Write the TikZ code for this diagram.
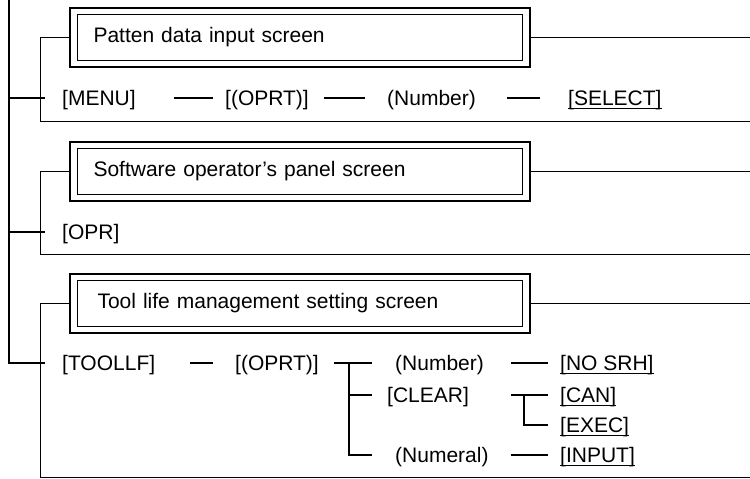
\documentclass[tikz,border=0pt]{standalone}
\usepackage{fontspec}
\setmainfont{Liberation Sans}
\usetikzlibrary{positioning}
\newcommand{\keyul}[1]{\setbox0\hbox{#1}\rlap{\rule[-3.5pt]{\wd0}{1.1pt}}\box0}

\begin{document}
\begin{tikzpicture}[x=1pt, y=-1pt,
        txt/.style={anchor=west, inner sep=0pt, text height=15pt, text depth=0pt, font=\fontsize{21}{25}\selectfont},
        screen/.style={draw, line width=1.8pt, minimum width=460pt, minimum height=59pt, inner sep=0pt},
        screenin/.style={draw, line width=0.8pt, minimum width=445pt, minimum height=46pt, text width=413pt, inner xsep=16pt, inner ysep=0pt, align=left, font=\fontsize{21}{25}\selectfont},
        link/.style={line width=1.3pt},
        frame/.style={line width=1pt}]
        \useasboundingbox (0,0) rectangle (750,479);

        % Screens
        \node (patten) [screen] at (300,37.5) {};
        \node (pattenin) [screenin] at (patten.center) {Patten data input screen};
        \node (software) [screen] at (300,171.5) {};
        \node (softwarein) [screenin] at (software.center) {Software operator’s panel screen};
        \node (toollife) [screen] at (300,303.5) {};
        \node (toollifein) [screenin] at (toollife.center) {\hspace{4pt}Tool life management setting screen};

        % Keys
        \node (menu) [txt] at (62,98) {[MENU]};
        \node (oprta) [txt] at (225,98) {[(OPRT)]};
        \node (numbera) [txt] at (387,98) {(Number)};
        \node (select) [txt] at (568,98) {\keyul{[SELECT]}};
        \node (opr) [txt] at (62,232) {[OPR]};
        \node (toollf) [txt] at (62,363) {[TOOLLF]};
        \node (oprtb) [txt] at (235,363) {[(OPRT)]};
        \node (numberb) [txt] at (395,363) {(Number)};
        \node (nosrh) [txt] at (560,363) {\keyul{[NO SRH]}};
        \node (clear) [txt] at (387,395) {[CLEAR]};
        \node (can) [txt] at (560,395) {\keyul{[CAN]}};
        \node (exec) [txt] at (560,425) {\keyul{[EXEC]}};
        \node (numeral) [txt] at (395,455) {(Numeral)};
        \node (input) [txt] at (560,455) {\keyul{[INPUT]}};

        % Coordinates
        \coordinate (top) at (9,0);
        \coordinate (foot1) at (40,121);
        \coordinate (end1) at (750,121);
        \coordinate (tail1) at (750,37.5);
        \coordinate (foot2) at (40,254);
        \coordinate (end2) at (750,254);
        \coordinate (tail2) at (750,171.5);
        \coordinate (foot3) at (40,477);
        \coordinate (end3) at (750,477);
        \coordinate (tail3) at (750,303.5);
        \coordinate (fork1) at (349,363);
        \coordinate (fork2) at (524,395);

        % Trunk
        \draw[link, shorten >=17pt] (top) |- (toollf.west);
        \draw[link, shorten >=17pt] (menu.west -| top) -- (menu.west);
        \draw[link, shorten >=17pt] (opr.west -| top) -- (opr.west);

        % Frames
        \draw[frame] (patten.west) -| (foot1) -- (end1);
        \draw[frame] (patten.east) -- (tail1);
        \draw[frame] (software.west) -| (foot2) -- (end2);
        \draw[frame] (software.east) -- (tail2);
        \draw[frame] (toollife.west) -| (foot3) -- (end3);
        \draw[frame] (toollife.east) -- (tail3);

        % Dashes
        \draw[link, shorten <=38pt, shorten >=12pt] (menu.east) -- (oprta.west);
        \draw[link, shorten <=15pt, shorten >=22pt] (oprta.east) -- (numbera.west);
        \draw[link, shorten <=31pt, shorten >=28pt] (numbera.east) -- (select.west);
        \draw[link, shorten <=35pt, shorten >=22pt] (toollf.east) -- (oprtb.west);
        \draw[link, shorten <=15pt, shorten >=23pt] (oprtb.east) -- (numberb.west);
        \draw[link, shorten >=23pt] (fork1) |- (numeral.west);
        \draw[link, shorten >=15pt] (fork1 |- clear.west) -- (clear.west);
        \draw[link, shorten <=27pt, shorten >=12pt] (numberb.east) -- (nosrh.west);
        \draw[link, shorten <=42pt, shorten >=12pt] (clear.east) -- (can.west);
        \draw[link, shorten >=12pt] (fork2) |- (exec.west);
        \draw[link, shorten <=22pt, shorten >=12pt] (numeral.east) -- (input.west);
    \end{tikzpicture}
\end{document}
